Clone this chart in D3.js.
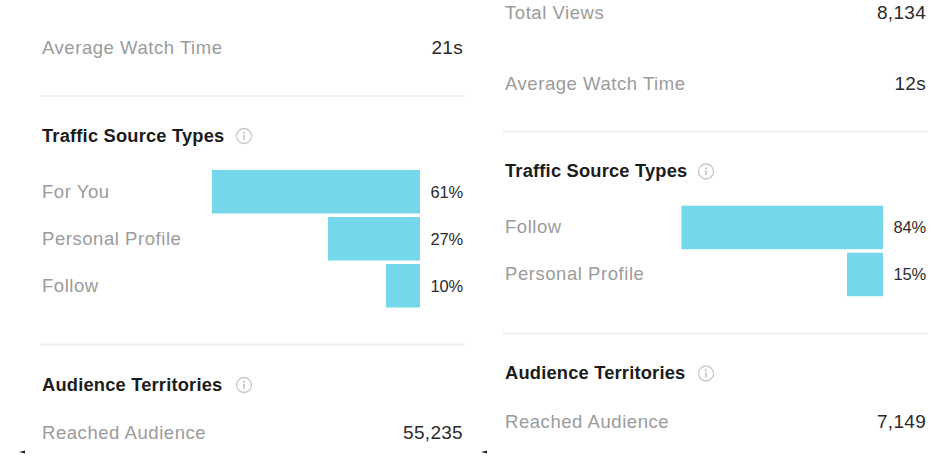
<!DOCTYPE html>
<html>
<head>
<meta charset="utf-8">
<script src="https://cdn.jsdelivr.net/npm/d3@7"></script>
<style>
  html, body { margin: 0; padding: 0; background: #ffffff; }
  svg { display: block; }
</style>
</head>
<body>
<svg id="chart" width="940" height="458"></svg>
<script>
// ---- Data ----
const leftStatLabels = ["Average Watch Time"];
const leftStatValues = ["21s"];
const leftCategories = ["For You", "Personal Profile", "Follow"];
const leftValues = [61, 27, 10];
const leftReachedLabel = "Reached Audience";
const leftReachedValue = "55,235";

const rightStatLabels = ["Total Views", "Average Watch Time"];
const rightStatValues = ["8,134", "12s"];
const rightCategories = ["Follow", "Personal Profile"];
const rightValues = [84, 15];
const rightReachedLabel = "Reached Audience";
const rightReachedValue = "7,149";

const sectionTitles = ["Traffic Source Types", "Audience Territories"];

// ---- Styles ----
const BAR = "#74d8ea";
const LABEL = "#9b9b9b";
const VALUE = "#2b2b2b";
const TITLE = "#1c1c1c";
const RULE = "#efefef";
const FONT = "'Liberation Sans', Arial, sans-serif";

const svg = d3.select("#chart");

function label(g, x, y, t, opts = {}) {
  return g.append("text")
    .attr("x", x).attr("y", y)
    .attr("text-anchor", opts.anchor || "start")
    .attr("font-family", FONT)
    .attr("font-size", opts.size || 18.5)
    .attr("font-weight", opts.weight || "normal")
    .attr("letter-spacing", opts.ls != null ? opts.ls : 0.55)
    .attr("fill", opts.fill || LABEL)
    .text(t);
}

function infoIcon(g, cx, cy) {
  const ic = g.append("g").attr("transform", `translate(${cx},${cy})`);
  ic.append("circle").attr("r", 7.5).attr("fill", "none")
    .attr("stroke", "#c9c9c9").attr("stroke-width", 1.3);
  ic.append("circle").attr("cx", 0).attr("cy", -3.2).attr("r", 1).attr("fill", "#bdbdbd");
  ic.append("line").attr("x1", 0).attr("x2", 0).attr("y1", -1).attr("y2", 3.8)
    .attr("stroke", "#bdbdbd").attr("stroke-width", 1.5);
}

function panel(cfg) {
  const g = svg.append("g");
  // stats rows
  cfg.statLabels.forEach((t, i) => {
    label(g, cfg.left, cfg.statBaselines[i], t);
    label(g, cfg.right, cfg.statBaselines[i], cfg.statValues[i], { anchor: "end", fill: VALUE, ls: 0.3, size: 19 });
  });
  // divider 1
  g.append("line").attr("x1", cfg.left - 2).attr("x2", cfg.right + 2)
    .attr("y1", cfg.rule1).attr("y2", cfg.rule1)
    .attr("stroke", RULE).attr("stroke-width", 2);
  // section title
  label(g, cfg.left, cfg.titleBaseline, sectionTitles[0], { weight: "bold", size: 18.3, fill: TITLE, ls: 0.2 });
  infoIcon(g, cfg.iconX, cfg.titleBaseline - 5.5);

  // bars
  const y = d3.scaleBand().domain(cfg.categories)
    .range([cfg.barTop, cfg.barTop + cfg.categories.length * 47 - 3.5])
    .paddingInner(0.075).paddingOuter(0);
  const x = d3.scaleLinear().domain([0, 100]).range([0, cfg.pxPer100]);

  const rows = g.selectAll("g.row").data(cfg.categories.map((c, i) => ({ c, v: cfg.values[i] })))
    .enter().append("g").attr("class", "row");
  rows.append("rect")
    .attr("x", d => cfg.barRight - x(d.v))
    .attr("y", d => y(d.c))
    .attr("width", d => x(d.v))
    .attr("height", y.bandwidth())
    .attr("fill", BAR);
  rows.each(function (d) {
    const r = d3.select(this);
    const base = y(d.c) + y.bandwidth() / 2 + 6;
    label(r, cfg.left, base, d.c);
    label(r, cfg.right, base, d.v + "%", { anchor: "end", fill: VALUE, ls: -0.2, size: 16.5 });
  });

  // divider 2
  g.append("line").attr("x1", cfg.left - 2).attr("x2", cfg.right + 2)
    .attr("y1", cfg.rule2).attr("y2", cfg.rule2)
    .attr("stroke", RULE).attr("stroke-width", 2);

  label(g, cfg.left, cfg.title2Baseline, sectionTitles[1], { weight: "bold", size: 18.3, fill: TITLE, ls: 0.2 });
  infoIcon(g, cfg.iconX, cfg.title2Baseline - 5.5);

  label(g, cfg.left, cfg.reachedBaseline, cfg.reachedLabel);
  label(g, cfg.right, cfg.reachedBaseline, cfg.reachedValue, { anchor: "end", fill: VALUE, ls: 0.3, size: 19 });

  // small dark mark at bottom-left
  g.append("path")
    .attr("d", `M${cfg.markX},${452} l6,-1.5 l0,3 z`)
    .attr("fill", "#222");
}

panel({
  left: 42, right: 463,
  statLabels: leftStatLabels, statValues: leftStatValues, statBaselines: [54],
  rule1: 96, titleBaseline: 141.5, iconX: 244,
  categories: leftCategories, values: leftValues,
  barTop: 170, barRight: 420, pxPer100: 341,
  rule2: 344.5, title2Baseline: 390.5,
  reachedLabel: leftReachedLabel, reachedValue: leftReachedValue, reachedBaseline: 439.3,
  markX: 19
});

panel({
  left: 505, right: 926,
  statLabels: rightStatLabels, statValues: rightStatValues, statBaselines: [18.5, 90],
  rule1: 131.5, titleBaseline: 177, iconX: 706,
  categories: rightCategories, values: rightValues,
  barTop: 205.7, barRight: 883, pxPer100: 240,
  rule2: 333.5, title2Baseline: 379,
  reachedLabel: rightReachedLabel, reachedValue: rightReachedValue, reachedBaseline: 427.5,
  markX: 481
});
</script>
</body>
</html>
